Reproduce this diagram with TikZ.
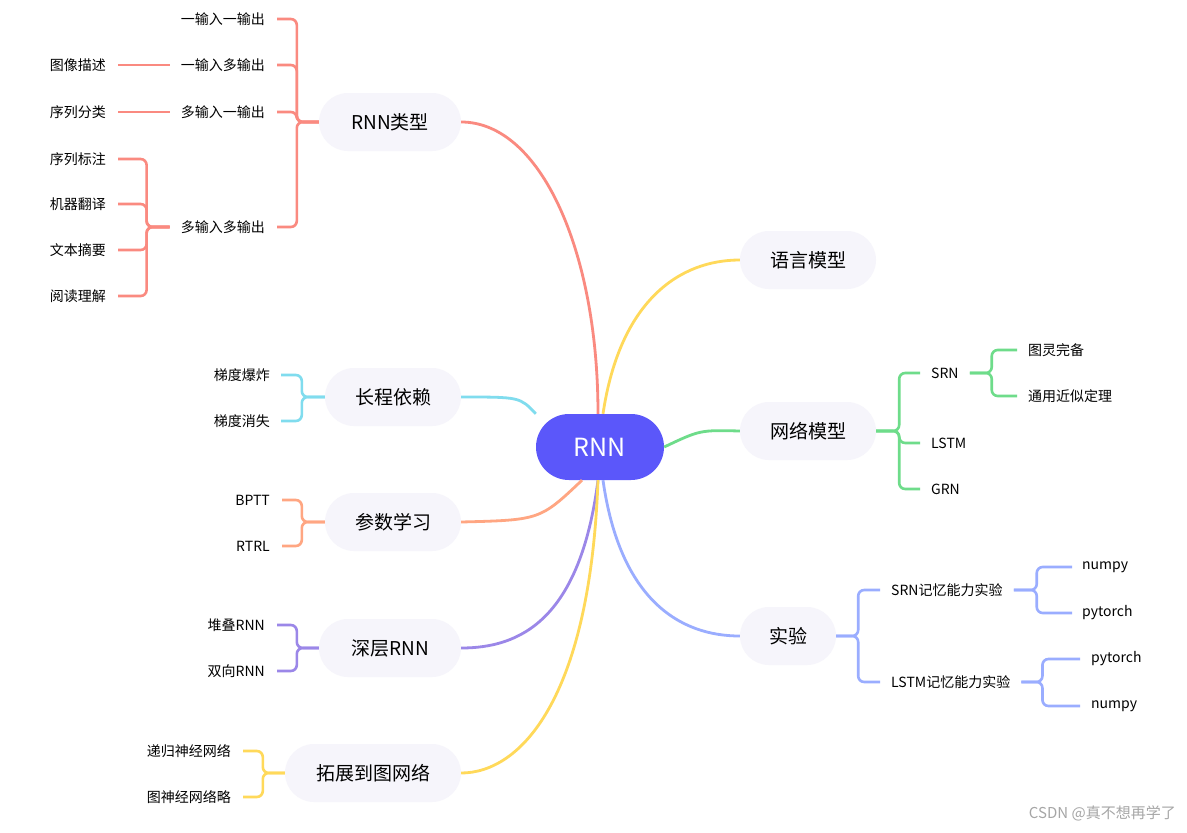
\documentclass[tikz,border=0pt]{standalone}
\usepackage{fontspec}
\setmainfont{Noto Sans CJK SC}
\begin{document}
\begin{tikzpicture}[x=1pt,y=-1pt,
  topic/.style={fill=nodebg,rounded corners=29pt,minimum height=58pt,font=\fontsize{19}{19}\selectfont,inner sep=0pt},
  leafL/.style={anchor=east,font=\fontsize{14}{14}\selectfont,inner sep=0pt},
  leafR/.style={anchor=west,font=\fontsize{14}{14}\selectfont,inner sep=0pt},
  br/.style={draw=#1,line width=2.6pt,rounded corners=6pt},
  main/.style={draw=#1,line width=2.8pt}]
\definecolor{nodebg}{HTML}{F6F5FB}
\definecolor{cred}{HTML}{FA8A80}
\definecolor{cyel}{HTML}{FFD95A}
\definecolor{cgrn}{HTML}{6EDC8A}
\definecolor{ccya}{HTML}{80DCEE}
\definecolor{corg}{HTML}{FFA682}
\definecolor{cpur}{HTML}{9B87E8}
\definecolor{cblu}{HTML}{9AADFF}
\definecolor{crnn}{HTML}{5B57FA}
\useasboundingbox[fill=white] (0,0) rectangle (1187,833);

\node[fill=crnn,text=white,rounded corners=33pt,minimum width=128pt,minimum height=66pt,font=\fontsize{25}{25}\selectfont,inner sep=0pt] (rnn) at (600,447) {RNN};

\node[topic,minimum width=142pt] (t1) at (390,122) {RNN类型};
\node[topic,minimum width=136pt] (t2) at (808,260) {语言模型};
\node[topic,minimum width=136pt] (t3) at (808,431) {网络模型};
\node[topic,minimum width=96pt] (t4) at (788,636) {实验};
\node[topic,minimum width=136pt] (t5) at (393,397) {长程依赖};
\node[topic,minimum width=136pt] (t6) at (393,522) {参数学习};
\node[topic,minimum width=142pt] (t7) at (390,648) {深层RNN};
\node[topic,minimum width=176pt] (t8) at (373,773) {拓展到图网络};

% main branches
\draw[main=cred] ([xshift=-2pt]rnn.north) .. controls (598,250) and (540,122) .. (t1.east);
\draw[main=cyel] ([xshift=3pt]rnn.north) .. controls (620,300) and (680,260) .. (t2.west);
\draw[main=cgrn] (rnn.east) .. controls (700,430) .. (t3.west);
\draw[main=cblu] ([xshift=3pt]rnn.south) .. controls (620,600) and (680,636) .. (t4.west);
\draw[main=ccya] (rnn.north west) .. controls (520,397) .. (t5.east);
\draw[main=corg] ([xshift=-18pt]rnn.south) .. controls (540,520) .. (t6.east);
\draw[main=cpur] ([xshift=-2pt]rnn.south) .. controls (580,620) and (520,648) .. (t7.east);
\draw[main=cyel] ([xshift=-2pt]rnn.south) .. controls (590,700) and (520,773) .. (t8.east);

% RNN types
\node[leafL] (a1) at (265,19) {一输入一输出};
\node[leafL] (a2) at (265,65) {一输入多输出};
\node[leafL] (a3) at (265,112) {多输入一输出};
\node[leafL] (a4) at (265,227) {多输入多输出};
\foreach \n in {a1,a2,a3,a4}{\draw[br=cred] (t1.west) -- ++(-22,0) |- ([xshift=12pt]\n.east);}
\node[leafL] (b1) at (106,65) {图像描述};
\node[leafL] (b2) at (106,112) {序列分类};
\draw[br=cred] ([xshift=-11pt]a2.west) -- ([xshift=12pt]b1.east);
\draw[br=cred] ([xshift=-11pt]a3.west) -- ([xshift=12pt]b2.east);
\node[leafL] (c1) at (106,159) {序列标注};
\node[leafL] (c2) at (106,204) {机器翻译};
\node[leafL] (c3) at (106,250) {文本摘要};
\node[leafL] (c4) at (106,296) {阅读理解};
\foreach \n in {c1,c2,c3,c4}{\draw[br=cred] ([xshift=-11pt]a4.west) -- ++(-23,0) |- ([xshift=12pt]\n.east);}

% network models
\node[leafR] (n1) at (931,373) {SRN};
\node[leafR] (n2) at (931,443) {LSTM};
\node[leafR] (n3) at (931,489) {GRN};
\foreach \n in {n1,n2,n3}{\draw[br=cgrn] (t3.east) -- ++(23,0) |- ([xshift=-11pt]\n.west);}
\node[leafR] (m1) at (1028,350) {图灵完备};
\node[leafR] (m2) at (1028,396) {通用近似定理};
\foreach \n in {m1,m2}{\draw[br=cgrn] ([xshift=11pt]n1.east) -- ++(22,0) |- ([xshift=-11pt]\n.west);}

% experiments
\node[leafR] (e1) at (891,590) {SRN记忆能力实验};
\node[leafR] (e2) at (891,682) {LSTM记忆能力实验};
\foreach \n in {e1,e2}{\draw[br=cblu] (t4.east) -- ++(22,0) |- ([xshift=-11pt]\n.west);}
\node[leafR] (f1) at (1082,567) {numpy};
\node[leafR] (f2) at (1082,613) {pytorch};
\foreach \n in {f1,f2}{\draw[br=cblu] ([xshift=11pt]e1.east) -- ++(23,0) |- ([xshift=-10pt]\n.west);}
\node[leafR] (g1) at (1091,659) {pytorch};
\node[leafR] (g2) at (1091,706) {numpy};
\foreach \n in {g1,g2}{\draw[br=cblu] ([xshift=11pt]e2.east) -- ++(21,0) |- ([xshift=-11pt]\n.west);}

% long-term dependency
\node[leafL] (h1) at (270,375) {梯度爆炸};
\node[leafL] (h2) at (270,421) {梯度消失};
\foreach \n in {h1,h2}{\draw[br=ccya] (t5.west) -- ++(-23,0) |- ([xshift=11pt]\n.east);}
% parameter learning
\node[leafL] (p1) at (270,500) {BPTT};
\node[leafL] (p2) at (270,546) {RTRL};
\foreach \n in {p1,p2}{\draw[br=corg] (t6.west) -- ++(-23,0) |- ([xshift=12pt]\n.east);}
% deep RNN
\node[leafL] (d1) at (265,625) {堆叠RNN};
\node[leafL] (d2) at (265,671) {双向RNN};
\foreach \n in {d1,d2}{\draw[br=cpur] (t7.west) -- ++(-22,0) |- ([xshift=12pt]\n.east);}
% graph
\node[leafL] (k1) at (231,751) {递归神经网络};
\node[leafL] (k2) at (231,797) {图神经网络略};
\foreach \n in {k1,k2}{\draw[br=cyel] (t8.west) -- ++(-22,0) |- ([xshift=12pt]\n.east);}

\node[anchor=east,text=gray!70,font=\fontsize{15}{15}\selectfont,inner sep=0pt] (wm) at (1176,813) {CSDN @真不想再学了};
\end{tikzpicture}
\end{document}
